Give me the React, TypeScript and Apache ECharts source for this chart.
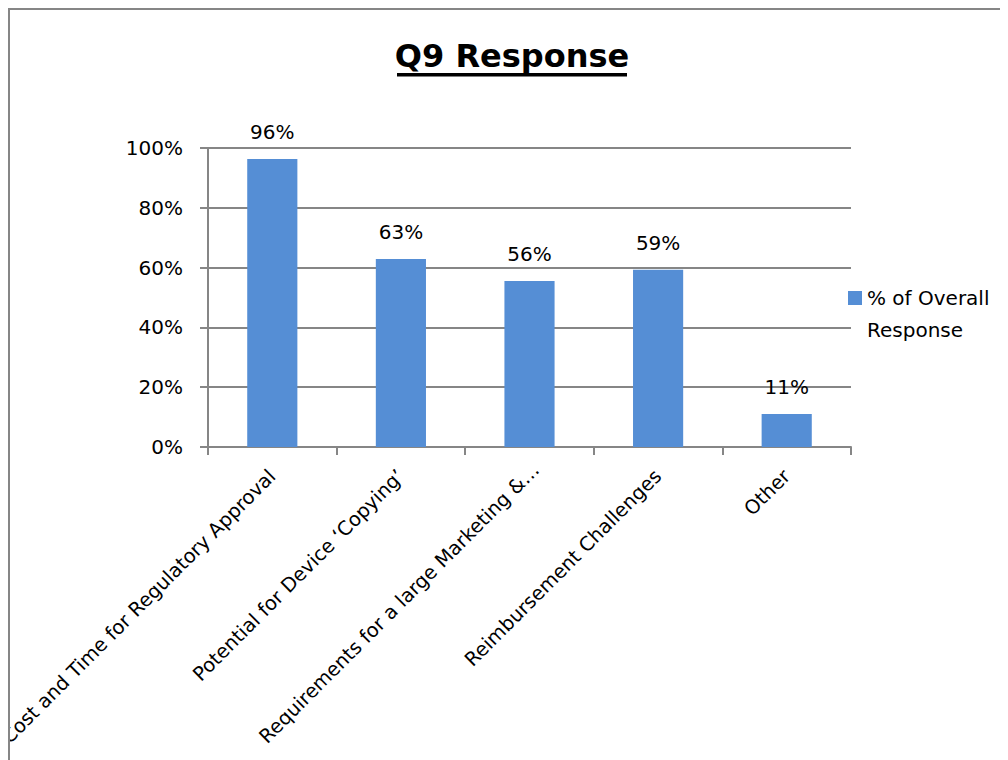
import React, { useEffect, useRef } from "react";
import * as echarts from "echarts";

const categories = [
  "Cost and Time for Regulatory Approval",
  "Potential for Device \u2018Copying\u2019",
  "Requirements for a large Marketing &\u2026",
  "Reimbursement Challenges",
  "Other",
];
const seriesName = "% of Overall Response";
const values = [0.963, 0.629, 0.555, 0.593, 0.11];
const yTicks = { min: 0, max: 1, interval: 0.2 };

const FONT = "DejaVu Sans";
const GRID = "#868686";

export default function App() {
  const ref = useRef<HTMLDivElement>(null);
  useEffect(() => {
    if (!ref.current) return;
    const chart = echarts.init(ref.current, undefined, { renderer: "svg" });
    const catData = categories.map((c, i) =>
      i === 2 ? { value: c, textStyle: { padding: [10, -9, 0, 0] } } : c
    );
    chart.setOption({
      animation: false,
      backgroundColor: "#ffffff",
      textStyle: { fontFamily: FONT },
      grid: {
        left: 200,
        right: 157,
        top: 140,
        bottom: 313,
        containLabel: false,
        outerBoundsMode: "none",
      },
      legend: {
        show: true,
        data: [seriesName],
        left: 840,
        top: 242,
        padding: 0,
        icon: "rect",
        itemWidth: 14,
        itemHeight: 14,
        formatter: () => "\n% of Overall\nResponse",
        textStyle: {
          fontFamily: FONT,
          fontSize: 20,
          color: "#000",
          lineHeight: 32,
        },
      },
      xAxis: {
        type: "category",
        data: catData,
        axisLine: { show: true, lineStyle: { color: GRID, width: 2 } },
        axisTick: { show: true, length: 8, lineStyle: { color: GRID, width: 2 } },
        axisLabel: {
          interval: 0,
          rotate: 45,
          margin: 26,
          fontFamily: FONT,
          fontSize: 19.5,
          color: "#000",
        },
      },
      yAxis: {
        type: "value",
        min: yTicks.min,
        max: yTicks.max,
        interval: yTicks.interval,
        axisLine: { show: true, lineStyle: { color: GRID, width: 2 } },
        axisTick: { show: true, length: 8, lineStyle: { color: GRID, width: 2 } },
        splitLine: { show: true, lineStyle: { color: GRID, width: 2 } },
        axisLabel: {
          margin: 25,
          fontFamily: FONT,
          fontSize: 20,
          color: "#000",
          formatter: (v: number) => Math.round(v * 100) + "%",
        },
      },
      series: [
        {
          name: seriesName,
          type: "bar",
          data: values,
          barCategoryGap: "61%",
          itemStyle: { color: "#558ED5" },
          label: {
            show: true,
            position: "top",
            distance: 17,
            fontFamily: FONT,
            fontSize: 20,
            color: "#000",
            formatter: (p: any) => Math.round(p.value * 100) + "%",
          },
        },
      ],
      graphic: [
        {
          type: "rect",
          silent: true,
          shape: { x: 1, y: 1, width: 1400, height: 1400 },
          style: { fill: "none", stroke: GRID, lineWidth: 2 },
          z: 100,
        },
        {
          type: "text",
          x: 504,
          y: 48,
          style: {
            text: "Q9 Response",
            fontFamily: FONT,
            fontWeight: "bold",
            fontSize: 32,
            fill: "#000",
            textAlign: "center",
            textVerticalAlign: "middle",
          },
        },
        {
          type: "rect",
          shape: { x: 389, y: 65, width: 230, height: 3.5 },
          style: { fill: "#000" },
        },
      ],
    });
    return () => chart.dispose();
  }, []);
  return <div ref={ref} style={{ width: 1000, height: 752, overflow: "hidden" }} />;
}
